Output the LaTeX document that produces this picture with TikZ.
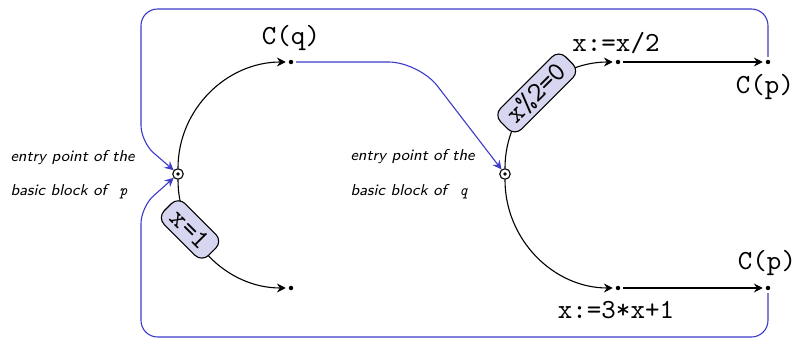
\documentclass[tikz,border=0pt]{standalone}
\usetikzlibrary{arrows.meta}
\definecolor{myblue}{RGB}{60,60,200}
\definecolor{condfill}{RGB}{214,214,240}
\begin{document}
\begin{tikzpicture}[x=0.362pt,y=-0.362pt,
  tip/.tip={Stealth[length=3.2pt,width=3.2pt,inset=1.1pt]},
  dotn/.style={circle,fill,inner sep=0pt,minimum size=1.6pt,outer sep=1.1pt},
  entryn/.style={circle,draw,inner sep=0pt,minimum size=3.8pt,
    path picture={\fill (path picture bounding box.center) circle (0.7pt);}},
  lbl/.style={font=\ttfamily},
  note/.style={font=\fontsize{5.7}{7}\selectfont\sffamily\itshape,anchor=west,inner sep=0pt},
  cond/.style={draw,rounded corners=3.5pt,fill=condfill,font=\ttfamily,
    inner xsep=3.5pt,inner ysep=2pt,text height=6.3pt,text depth=0.4pt},
  flow/.style={-tip,black},
  back/.style={-tip,draw=myblue,rounded corners=6pt}
]
\useasboundingbox (0,0) rectangle (797,340);

\node[entryn] (p) at (178,174) {};
\node[entryn] (q) at (505,174) {};
\node[dotn] (cq) at (291,62) {};
\node[dotn] (e1) at (291,288) {};
\node[dotn] (a) at (618,62) {};
\node[dotn] (b) at (618,288) {};
\node[dotn] (cp1) at (768,62) {};
\node[dotn] (cp2) at (768,288) {};

\node[lbl] (lcq) at (291,38) {C(q)};
\node[lbl] (la) at (616,43) {x:=x/2};
\node[lbl] (lcp1) at (765,87) {C(p)};
\node[lbl] (lb) at (616,310) {x:=3*x+1};
\node[lbl] (lcp2) at (767,263) {C(p)};

\node[note] (n1) at (10,158) {entry point of the};
\node[note] (n2) at (10,192) {basic block of\hspace{0.8em}\texttt{p}};
\node[note] (n3) at (350,157) {entry point of the};
\node[note] (n4) at (350,192) {basic block of\hspace{0.8em}\texttt{q}};

\draw[flow] (p) to[out=90,in=180] (cq);
\draw[flow] (p) to[out=-90,in=180] node[cond,pos=0.3,rotate=-45] (c1) {x=1} (e1);
\draw[flow] (q) to[out=90,in=180] node[cond,pos=0.5,rotate=45] (c2) {x\%2=0} (a);
\draw[flow] (q) to[out=-90,in=180] (b);
\draw[flow] (a) -- (cp1);
\draw[flow] (b) -- (cp2);

\coordinate (h1) at (419,62);
\draw[back,rounded corners=11pt] (cq) -- (h1) -- (q);
\coordinate (t1) at (768,9);
\coordinate (t2) at (141,9);
\coordinate (t3) at (141,142);
\draw[back] (cp1) -- (t1) -- (t2) -- (t3) -- (p);
\coordinate (b1) at (768,337);
\coordinate (b2) at (141,337);
\coordinate (b3) at (141,207);
\draw[back] (cp2) -- (b1) -- (b2) -- (b3) -- (p);
\end{tikzpicture}
\end{document}
